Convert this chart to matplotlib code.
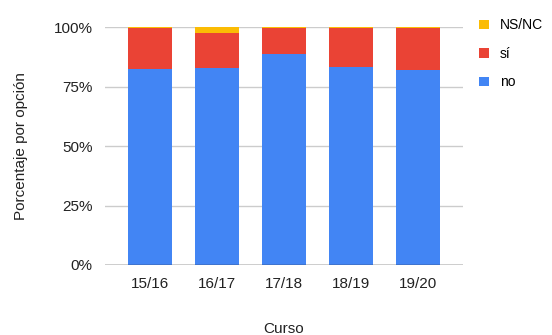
import matplotlib.pyplot as plt
import numpy as np

plt.rcParams['font.family'] = ['Liberation Sans', 'DejaVu Sans']

cursos = ["15/16", "16/17", "17/18", "18/19", "19/20"]
no = [82.4, 82.8, 88.7, 83.3, 81.9]
si = [17.3, 14.8, 11.0, 16.4, 17.8]
nsnc = [0.3, 2.4, 0.3, 0.3, 0.3]

colors = {'no': '#4285F4', 'sí': '#EA4335', 'NS/NC': '#FBBC04'}

fig = plt.figure(figsize=(5.52, 3.35), dpi=100)
ax = fig.add_axes([0.190, 0.209, 0.649, 0.710])

x = np.arange(len(cursos))
w = 0.66
b_no = ax.bar(x, no, w, color=colors['no'], zorder=2)
b_si = ax.bar(x, si, w, bottom=no, color=colors['sí'], zorder=2)
b_ns = ax.bar(x, nsnc, w, bottom=np.add(no, si), color=colors['NS/NC'], zorder=2)

ax.set_xlim(-0.672, 4.672)
ax.set_ylim(0, 100)
ax.set_yticks([0, 25, 50, 75, 100])
ax.set_yticklabels(['0%', '25%', '50%', '75%', '100%'])
ax.set_xticks(x)
ax.set_xticklabels(cursos)
ax.grid(axis='y', color='#cccccc', lw=1, zorder=0)
ax.axhline(0, color='#333333', lw=1, zorder=3)
for s in ax.spines.values():
    s.set_visible(False)
ax.tick_params(length=0, labelsize=11, colors='#222222', pad=9)

ax.set_xlabel('Curso', fontsize=11, color='#222222', labelpad=22)
ax.set_ylabel('Porcentaje por opción', fontsize=11, color='#222222', labelpad=18)

ax.legend([b_ns, b_si, b_no], ['NS/NC', 'sí', 'no'], loc='upper left',
          bbox_to_anchor=(1.01, 1.09), frameon=False, fontsize=10,
          handlelength=0.7, handleheight=0.7, labelspacing=1.05, handletextpad=0.8)

fig.savefig('out.png')
